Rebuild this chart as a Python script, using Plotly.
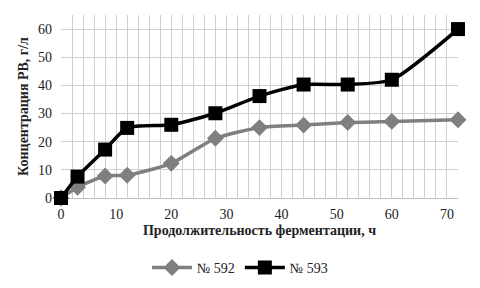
import plotly.graph_objects as go

hours = [0, 3, 8, 12, 20, 28, 36, 44, 52, 60, 72]
s592 = [0, 3.8, 7.8, 8.1, 12.3, 21.2, 25.0, 25.9, 26.8, 27.2, 27.8]
s593 = [0, 7.6, 17.2, 24.9, 26.0, 30.1, 36.2, 40.3, 40.3, 42.0, 60.0]
names = ["№ 592", "№ 593"]

font = "'Liberation Serif', 'Times New Roman', serif"

fig = go.Figure()
fig.add_trace(go.Scatter(
    x=hours, y=s592, name=names[0], mode="lines+markers",
    line=dict(color="#7f7f7f", width=3.5, shape="spline", smoothing=0.6),
    marker=dict(symbol="diamond", size=13, color="#7f7f7f"),
    cliponaxis=False,
))
fig.add_trace(go.Scatter(
    x=hours, y=s593, name=names[1], mode="lines+markers",
    line=dict(color="#000000", width=3.5, shape="spline", smoothing=0.6),
    marker=dict(symbol="square", size=14, color="#000000"),
    cliponaxis=False,
))

fig.update_layout(
    width=480, height=288,
    margin=dict(l=61, r=22, t=15, b=90, autoexpand=False),
    paper_bgcolor="white", plot_bgcolor="white",
    font=dict(family=font, size=14, color="#222"),
    showlegend=True,
    legend=dict(orientation="h", x=0.5, xanchor="center", xref="container",
                y=0.07, yanchor="middle", yref="container",
                font=dict(family=font, size=14), itemwidth=40),
    xaxis=dict(
        range=[0, 72], tickmode="array", tickvals=[0, 10, 20, 30, 40, 50, 60, 70],
        showgrid=False,
        minor=dict(dtick=2, tick0=0, showgrid=True, gridcolor="#cfcfcf", gridwidth=1),
        zeroline=False, showline=False, ticks="", ticklabelstandoff=6,
        title=dict(text="<b>Продолжительность ферментации, ч</b>", font=dict(family=font, size=14), standoff=4),
        tickfont=dict(family=font, size=14),
    ),
    yaxis=dict(
        range=[0, 65], tickmode="array", tickvals=[0, 10, 20, 30, 40, 50, 60],
        showgrid=True, gridcolor="#cfcfcf", gridwidth=1,
        zeroline=True, zerolinecolor="#bdbdbd", zerolinewidth=1,
        showline=False, ticks="", ticklabelstandoff=8,
        title=dict(text="<b>Концентрация РВ, г/л</b>", font=dict(family=font, size=14), standoff=6),
        tickfont=dict(family=font, size=14),
    ),
)

fig.write_html("out.html")
